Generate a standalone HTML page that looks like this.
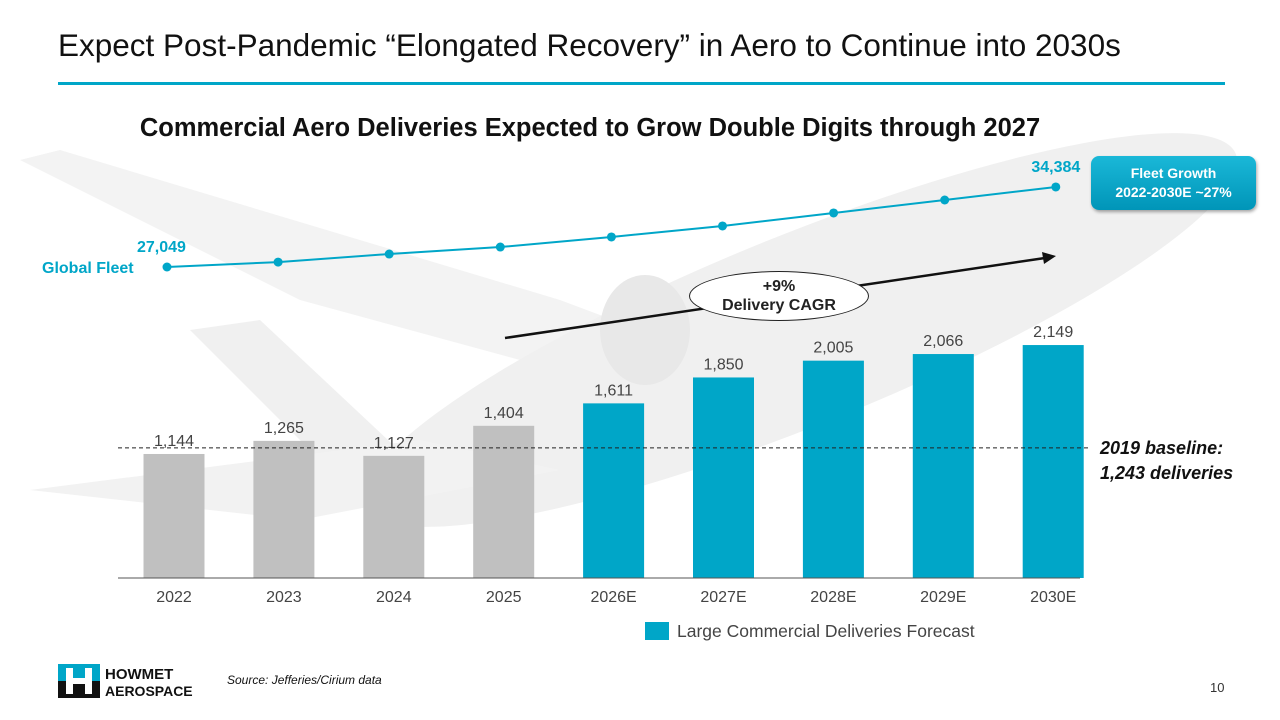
<!DOCTYPE html>
<html><head><meta charset="utf-8"><style>
body{margin:0;width:1280px;height:720px;background:#fff;font-family:"Liberation Sans",sans-serif;overflow:hidden;position:relative}
.abs{position:absolute}
</style></head><body>
<svg class="abs" style="left:0;top:0" width="1280" height="720">
<polygon points="20,160 60,150 560,300 640,330 520,360 300,300" fill="#f3f3f3"/>
<ellipse cx="800" cy="330" rx="470" ry="95" transform="rotate(-22 800 330)" fill="#f0f0f0"/>
<polygon points="190,330 260,320 420,470 330,470" fill="#f0f0f0"/>
<polygon points="30,490 420,440 560,470 300,520" fill="#f2f2f2"/>
<ellipse cx="645" cy="330" rx="45" ry="55" fill="#e8e8e8"/>
</svg>
<div class="abs" style="left:58px;top:27px;font-size:31.5px;color:#111">Expect Post-Pandemic “Elongated Recovery” in Aero to Continue into 2030s</div>
<div class="abs" style="left:58px;top:82px;width:1167px;height:3px;background:#00a6c8"></div>
<div class="abs" style="left:0;width:1180px;text-align:center;top:114px;font-size:25.5px;font-weight:bold;color:#111">Commercial Aero Deliveries Expected to Grow Double Digits through 2027</div>
<svg id="chart" class="abs" style="left:0;top:0" width="1280" height="720"></svg>
<div class="abs" style="left:1091px;top:156px;width:165px;height:54px;border-radius:8px;background:linear-gradient(#1ab8d8,#0095b8);box-shadow:1px 2px 3px rgba(0,0,0,.35);color:#fff;font-weight:bold;font-size:14px;text-align:center;line-height:19px;padding-top:8px;box-sizing:border-box">Fleet Growth<br>2022-2030E ~27%</div>
<div class="abs" style="left:689px;top:271px;width:180px;height:50px;border:1.5px solid #222;border-radius:50%;background:#fff;text-align:center;font-weight:bold;font-size:16px;line-height:19px;padding-top:5px;box-sizing:border-box;color:#222">+9%<br>Delivery CAGR</div>
<div class="abs" style="left:1100px;top:436px;font-size:18px;font-weight:bold;font-style:italic;line-height:25px;color:#111">2019 baseline:<br>1,243 deliveries</div>
<div class="abs" style="left:645px;top:621px;font-size:17.5px;color:#444"><span style="display:inline-block;width:24px;height:18px;background:#00a6c8;vertical-align:-3px;margin-right:8px"></span>Large Commercial Deliveries Forecast</div>
<div class="abs" style="left:227px;top:673px;font-size:12px;font-style:italic;color:#111">Source: Jefferies/Cirium data</div>
<div class="abs" style="left:1210px;top:680px;font-size:13px;color:#333">10</div>
<svg class="abs" style="left:58px;top:664px" width="140" height="36">
<rect x="0" y="0" width="42" height="17" fill="#00a6c8"/><rect x="0" y="17" width="42" height="17" fill="#111"/>
<rect x="8" y="4" width="7" height="26" fill="#fff"/><rect x="27" y="4" width="7" height="26" fill="#fff"/><rect x="8" y="14" width="26" height="6" fill="#fff"/>
<text x="47" y="15" font-size="15" font-weight="bold" fill="#111">HOWMET</text>
<text x="47" y="32" font-size="14" font-weight="bold" fill="#111">AEROSPACE</text>
</svg>
<script>
const categories=["2022","2023","2024","2025","2026E","2027E","2028E","2029E","2030E"];
const deliveries=[1144,1265,1127,1404,1611,1850,2005,2066,2149];
const forecast=[false,false,false,false,true,true,true,true,true];
const fleet=[27049,27500,28240,28880,29800,30810,32000,33190,34384];
const fleetLabels=["27,049","","","","","","","","34,384"];
const baselineValue=1200;
const svg=document.getElementById('chart');const NS='http://www.w3.org/2000/svg';
const bx=i=>174+i*109.9, by=v=>578-v*0.1084;
const fx=i=>167+i*111.1, fy=v=>267-(v-27049)*0.01091;
function mk(t,a,p){const e=document.createElementNS(NS,t);for(const k in a)e.setAttribute(k,a[k]);(p||svg).appendChild(e);return e;}
categories.forEach((c,i)=>{
 const r=mk('rect',{x:bx(i)-30.5,y:by(deliveries[i]),width:61,height:578-by(deliveries[i]),fill:forecast[i]?'#00a6c8':'#c0c0c0'});
 
 
 const t=mk('text',{x:bx(i),y:by(deliveries[i])-8,'text-anchor':'middle','font-size':16,fill:'#444'});t.textContent=deliveries[i].toLocaleString('en-US');
 
 
 const x=mk('text',{x:bx(i),y:602,'text-anchor':'middle','font-size':16,fill:'#444'});x.textContent=c;
 
 
});
const ax=mk('line',{x1:118,x2:1080,y1:578,y2:578,stroke:'#555','stroke-width':1});


const bl=mk('line',{x1:118,x2:1090,y1:by(baselineValue),y2:by(baselineValue),stroke:'#222','stroke-width':1,'stroke-dasharray':'4,3'});


const pts=fleet.map((v,i)=>fx(i)+','+fy(v)).join(' ');
const pl=mk('polyline',{points:pts,fill:'none',stroke:'#00a6c8','stroke-width':2});


fleet.forEach((v,i)=>{
 const c=mk('circle',{cx:fx(i),cy:fy(v),r:4.5,fill:'#00a6c8'});
 
 
 if(fleetLabels[i]){const t=mk('text',{x:fx(i),y:fy(v)-15,'text-anchor':i==0?'start':'middle','font-size':16,'font-weight':'bold',fill:'#00a6c8'});if(i==0)t.setAttribute('x',fx(i)-30);t.textContent=fleetLabels[i];
 
 }
});
const gl=mk('text',{x:42,y:273,'font-size':16,'font-weight':'bold',fill:'#00a6c8'});gl.textContent='Global Fleet';


const ar=mk('line',{x1:505,y1:338,x2:1045,y2:258,stroke:'#111','stroke-width':2.5});


const ah=mk('polygon',{points:'1056,256 1042,252 1044,264',fill:'#111'});


</script>
</body></html>
